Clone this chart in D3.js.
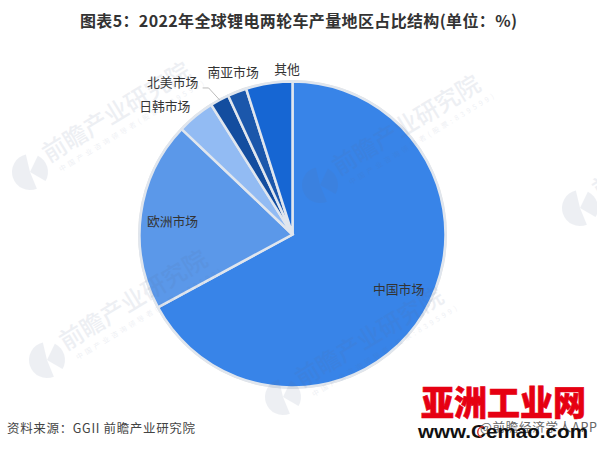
<!DOCTYPE html>
<html>
<head>
<meta charset="utf-8">
<script src="https://cdn.jsdelivr.net/npm/d3@7/dist/d3.min.js"></script>
<style>
html, body { margin: 0; padding: 0; background: #fff; }
svg { display: block; }
text { font-family: "Noto Sans CJK SC", "Liberation Sans", sans-serif; }
</style>
</head>
<body>
<svg id="chart" width="597" height="449"></svg>
<script>
var regions = ["中国市场", "欧洲市场", "日韩市场", "北美市场", "南亚市场", "其他"];
var shares = [67.1, 20, 4, 2, 2, 4.9];
var sliceColors = ["#3884e8", "#5b98e9", "#92bbf3", "#134d9f", "#1b57ab", "#1666d3"];

var titleText = "图表5：2022年全球锂电两轮车产量地区占比结构(单位：%)";
var sourceText = "资料来源：GGII 前瞻产业研究院";
var appText = "@前瞻经济学人APP";
var stampTitle = "亚洲工业网";
var stampUrl = "www.Cemao.com";
var markName = "前瞻产业研究院";
var markSub = "中国产业咨询领导者(股票:839599)";

// label offsets, the two big slices are inside and the small ones hang off the edge
var labelShift = [[3, -7], [-1, 2], [-31, -11], [-47, -18], [-4, -20], [18, -15]];
var labelOutside = [false, false, true, true, true, true];

var cx = 292.5, cy = 234.5, radius = 153;
var svg = d3.select("#chart");

var pie = d3.pie().sort(null).value(function(d) { return d; });
var arcs = pie(shares);
var arc = d3.arc().innerRadius(0).outerRadius(radius);
var pieGroup = svg.append("g").attr("transform", "translate(" + cx + "," + cy + ")");

pieGroup.append("circle")
    .attr("r", radius + 1.5)
    .attr("fill", "#e2e2e2");

pieGroup.selectAll("path")
    .data(arcs)
    .enter()
    .append("path")
    .attr("d", arc)
    .attr("fill", function(d, i) { return sliceColors[i]; })
    .attr("stroke", "#e0e6ee")
    .attr("stroke-width", 2.5);

// watermarks sit over the pie, see-through
var markSpots = [[30, 172], [320, 185], [47, 360], [580, 208], [283, 397]];
var markInk = "#5a6e96";
var logoArc = d3.arc().innerRadius(0).outerRadius(18);

var marks = svg.selectAll("g.mark")
    .data(markSpots)
    .enter()
    .append("g")
    .attr("class", "mark")
    .attr("opacity", 0.1)
    .attr("fill", markInk)
    .attr("transform", function(d) { return "translate(" + d[0] + "," + d[1] + ")"; });

marks.append("path")
    .attr("d", logoArc({ startAngle: 2.75, endAngle: 6.05 }));

marks.append("path")
    .attr("d", logoArc({ startAngle: 0.45, endAngle: 2.1 }));

marks.append("text")
    .attr("transform", "translate(19,-9) rotate(-31.3)")
    .attr("font-size", 24)
    .attr("font-weight", 500)
    .attr("textLength", 168)
    .text(markName);

marks.append("text")
    .attr("transform", "translate(31,0) rotate(-31.3)")
    .attr("font-size", 7)
    .attr("textLength", 168)
    .text(markSub);

var insideArc = d3.arc().innerRadius(120).outerRadius(120);
var edgeArc = d3.arc().innerRadius(radius).outerRadius(radius);

var labelPoint = function(d, i)
{
    var p = labelOutside[i] ? edgeArc.centroid(d) : insideArc.centroid(d);
    return [p[0] + labelShift[i][0], p[1] + labelShift[i][1]];
}

pieGroup.selectAll("text")
    .data(arcs)
    .enter()
    .append("text")
    .attr("text-anchor", "middle")
    .attr("dominant-baseline", "central")
    .attr("font-size", 12.8)
    .attr("fill", "#333")
    .attr("x", function(d, i) { return labelPoint(d, i)[0]; })
    .attr("y", function(d, i) { return labelPoint(d, i)[1]; })
    .text(function(d, i) { return regions[i]; });

// leader line only for the north america slice
var northEdge = edgeArc.centroid(arcs[3]);
pieGroup.append("path")
    .attr("d", d3.line()([
        northEdge,
        [northEdge[0] - 11, northEdge[1] - 12],
        [northEdge[0] - 17, northEdge[1] - 12]
    ]))
    .attr("fill", "none")
    .attr("stroke", "#aaa")
    .attr("stroke-width", 0.8);

svg.append("text")
    .attr("x", 80)
    .attr("y", 27)
    .attr("font-size", 16)
    .attr("font-weight", "bold")
    .attr("fill", "#333")
    .attr("textLength", 437)
    .text(titleText);

svg.append("text")
    .attr("x", 7)
    .attr("y", 433)
    .attr("font-size", 12.5)
    .attr("fill", "#444")
    .attr("textLength", 188)
    .text(sourceText);

svg.append("text")
    .attr("x", 480)
    .attr("y", 432)
    .attr("font-size", 12.5)
    .attr("fill", "#666")
    .attr("textLength", 117)
    .text(appText);

svg.append("text")
    .attr("x", 421)
    .attr("y", 416)
    .attr("textLength", 165)
    .attr("lengthAdjust", "spacingAndGlyphs")
    .attr("font-size", 35)
    .attr("font-weight", "900")
    .attr("fill", "#e60012")
    .attr("stroke", "#e60012")
    .attr("stroke-width", 0.6)
    .text(stampTitle);

svg.append("text")
    .attr("x", 418)
    .attr("y", 438)
    .attr("textLength", 170)
    .attr("lengthAdjust", "spacingAndGlyphs")
    .attr("font-size", 18)
    .attr("font-weight", "bold")
    .attr("fill", "#111")
    .style("font-family", "Liberation Sans")
    .text(stampUrl);

// red swirl of the app logo on top of the C
svg.append("path")
    .attr("transform", "translate(483,432)")
    .attr("d", d3.arc().innerRadius(4.5).outerRadius(6)({ startAngle: 3.4, endAngle: 6.4 }))
    .attr("fill", "#d8352a");
</script>
</body>
</html>
